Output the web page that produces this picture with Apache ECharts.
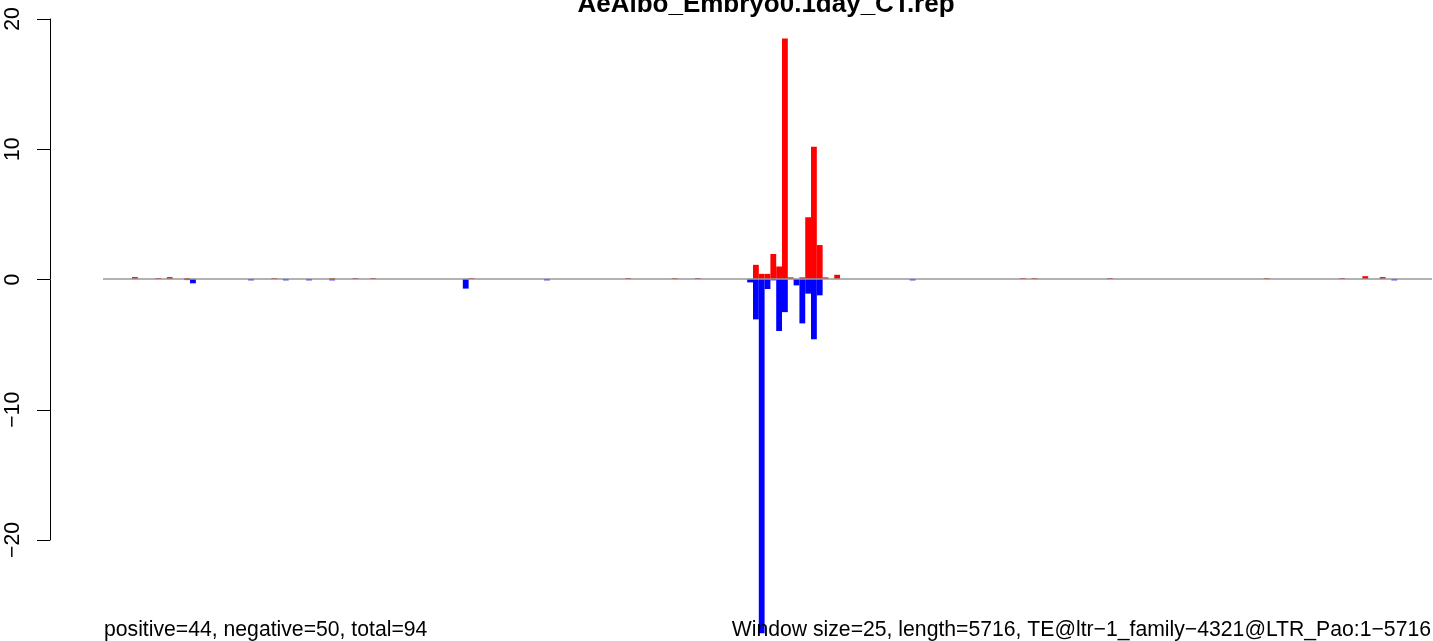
<!DOCTYPE html>
<html>
<head>
<meta charset="utf-8">
<script src="https://cdn.jsdelivr.net/npm/echarts@6/dist/echarts.min.js"></script>
<style>
html,body{margin:0;padding:0;background:#fff;}
#chart{width:1433px;height:641px;}
</style>
</head>
<body>
<div id="chart"></div>
<script>
// ---- data ----
const titleText = 'AeAlbo_Embryo0.1day_CT.rep';
const leftNote = 'positive=44, negative=50, total=94';
const rightNote = 'Window size=25, length=5716, TE@ltr\u22121_family\u22124321@LTR_Pao:1\u22125716';
const windowSize = 25;
const seqLength = 5716;
const yTicks = [-20, -10, 0, 10, 20];

// windows with positive-strand signal (window index, value)
const posIdx = [5, 9, 11, 14, 29, 39, 43, 46, 63, 90, 98, 102,
  112, 113, 114, 115, 116, 117, 118, 120, 121, 122, 123, 124, 126,
  158, 160, 173, 200, 213, 217, 220];
const posVal = [0.15, 0.08, 0.15, 0.08, 0.08, 0.08, 0.08, 0.08, 0.08, 0.08, 0.08, 0.08,
  1.1, 0.4, 0.4, 1.94, 0.97, 18.6, 0.13, 0.13, 4.78, 10.24, 2.63, 0.13, 0.33,
  0.08, 0.08, 0.08, 0.08, 0.08, 0.22, 0.15];

// windows with negative-strand signal (window index, value)
const negIdx = [14, 15, 25, 31, 35, 39, 62, 76,
  111, 112, 113, 114, 115, 116, 117, 119, 120, 121, 122, 123, 139, 222];
const negVal = [-0.08, -0.33, -0.1, -0.1, -0.1, -0.1, -0.74, -0.1,
  -0.26, -3.12, -27.4, -0.77, -0.1, -4.02, -2.56, -0.49, -3.43, -1.13, -4.66, -1.26, -0.1, -0.1];

// ---- build ----
const nWin = Math.ceil(seqLength / windowSize);
const cats = [];
for (let i = 0; i < nWin; i++) cats.push(String(i * windowSize + 1));
const posData = new Array(nWin).fill(null);
const negData = new Array(nWin).fill(null);
posIdx.forEach((k, j) => { posData[k] = posVal[j]; });
negIdx.forEach((k, j) => { negData[k] = negVal[j]; });

const FONT = "'Liberation Sans', Arial, Helvetica, sans-serif";
const chart = echarts.init(document.getElementById('chart'));
chart.setOption({
  animation: false,
  backgroundColor: '#ffffff',
  title: [
    { text: titleText, left: 766, top: -8, textAlign: 'center', padding: 0,
      textStyle: { fontFamily: FONT, fontWeight: 'bold', fontSize: 26, lineHeight: 26, color: '#000' } },
    { text: leftNote, left: 104, top: 619, padding: 0,
      textStyle: { fontFamily: FONT, fontWeight: 'normal', fontSize: 21.2, lineHeight: 22, color: '#000' } },
    { text: rightNote, right: 2, top: 619, padding: 0,
      textStyle: { fontFamily: FONT, fontWeight: 'normal', fontSize: 21.2, lineHeight: 22, color: '#000' } }
  ],
  grid: [
    { left: 50, top: 19, height: 521, width: 10 },
    { left: 103, top: 20.5, width: 1329, height: 625.2 }
  ],
  xAxis: [
    { gridIndex: 0, type: 'value', show: false },
    { gridIndex: 1, type: 'category', data: cats, show: false, boundaryGap: true }
  ],
  yAxis: [
    { gridIndex: 0, type: 'value', min: -20, max: 20, interval: 10,
      axisLine: { show: true, lineStyle: { color: '#000', width: 1 } },
      axisTick: { show: true, length: 13, lineStyle: { color: '#000', width: 1 } },
      axisLabel: { show: true, rotate: 90, margin: 26, fontSize: 21.2, fontFamily: FONT, color: '#000',
        formatter: v => (v < 0 ? '\u2212' + Math.abs(v) : String(v)) },
      splitLine: { show: false } },
    { gridIndex: 1, type: 'value', min: -28, max: 20, show: false, splitLine: { show: false } }
  ],
  series: [
    { name: 'base', type: 'line', xAxisIndex: 1, yAxisIndex: 1, data: [], z: 1,
      markLine: { silent: true, symbol: ['none', 'none'], label: { show: false },
        lineStyle: { color: '#999999', width: 1.5, type: 'solid' },
        data: [{ yAxis: 0 }] } },
    { name: 'positive', type: 'bar', xAxisIndex: 1, yAxisIndex: 1, data: posData,
      barWidth: '100%', barGap: '-100%', barMinHeight: 1, z: 2,
      itemStyle: { color: '#ff0000' } },
    { name: 'negative', type: 'bar', xAxisIndex: 1, yAxisIndex: 1, data: negData,
      barWidth: '100%', barGap: '-100%', barMinHeight: 1, z: 2,
      itemStyle: { color: '#0000ff' } }
  ]
});
</script>
</body>
</html>
